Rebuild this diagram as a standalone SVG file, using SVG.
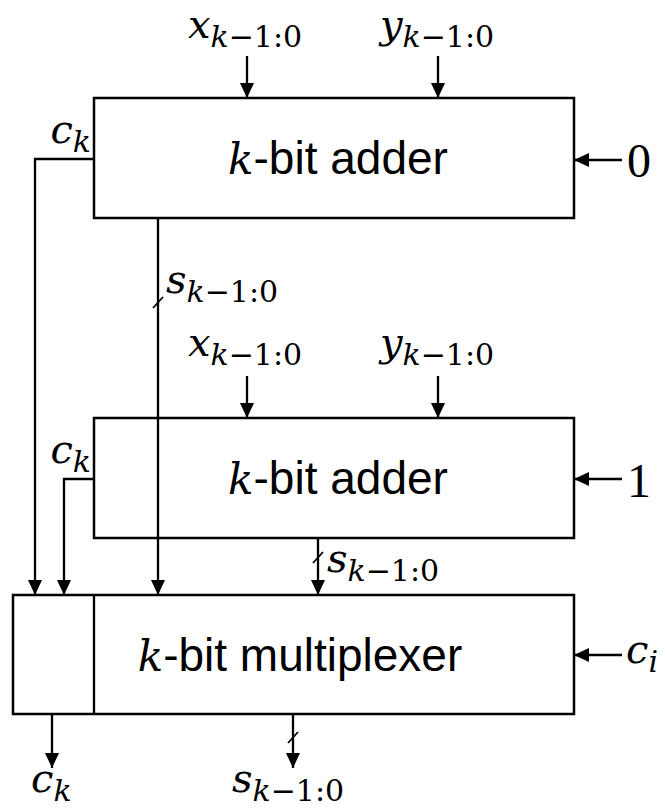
<svg xmlns="http://www.w3.org/2000/svg" width="665" height="812" viewBox="0 0 665 812">
  <defs>
    <marker id="arrow" markerUnits="userSpaceOnUse" markerWidth="16" markerHeight="14" refX="15" refY="7" orient="auto">
      <path d="M0,0 L15,7 L0,14 z" fill="#000"/>
    </marker>
    <style>
      .box { fill: #fff; stroke: #000; stroke-width: 2.5; }
      .wire { fill: none; stroke: #000; stroke-width: 2.3; }
      .arr { fill: none; stroke: #000; stroke-width: 2.3; marker-end: url(#arrow); }
      .tick { stroke: #000; stroke-width: 1.8; }
      .title { font-family: "Liberation Sans", Arial, sans-serif; font-size: 46px; fill: #000; }
      .kvar { font-family: "DejaVu Serif", serif; font-style: italic; font-size: 42px; }
      .math { font-family: "DejaVu Serif", serif; font-style: italic; font-size: 40px; fill: #000; }
      .sub { font-size: 30px; }
      .up { font-style: normal; }
      .num { font-family: "Liberation Serif", "Times New Roman", serif; font-size: 48px; fill: #000; }
    </style>
  </defs>

  <!-- upper adder (carry-in 0) -->
  <g id="adder0">
    <rect class="box" x="94" y="98" width="480" height="120"/>
    <text class="title" x="338" y="174" text-anchor="middle"><tspan class="kvar">k</tspan>-bit adder</text>
  </g>

  <!-- lower adder (carry-in 1) -->
  <g id="adder1">
    <rect class="box" x="94" y="418" width="480" height="120"/>
    <text class="title" x="338" y="494" text-anchor="middle"><tspan class="kvar">k</tspan>-bit adder</text>
  </g>

  <!-- output multiplexer -->
  <g id="mux">
    <rect class="box" x="13" y="595" width="561" height="119"/>
    <line class="wire" x1="94" y1="595" x2="94" y2="714" stroke-width="2.5"/>
    <text class="title" x="300" y="671" text-anchor="middle"><tspan class="kvar">k</tspan>-bit multiplexer</text>
  </g>

  <!-- connectors -->
  <g id="connectors">
    <!-- operand inputs -->
    <line class="arr" x1="247" y1="56" x2="247" y2="98"/>
    <line class="arr" x1="438" y1="56" x2="438" y2="98"/>
    <line class="arr" x1="247" y1="376" x2="247" y2="418"/>
    <line class="arr" x1="438" y1="376" x2="438" y2="418"/>
    <!-- carry inputs -->
    <line class="arr" x1="622" y1="160" x2="574" y2="160"/>
    <line class="arr" x1="622" y1="479" x2="574" y2="479"/>
    <line class="arr" x1="622" y1="655" x2="574" y2="655"/>
    <!-- carry outputs into mux -->
    <polyline class="arr" points="94,159 35,159 35,595"/>
    <polyline class="arr" points="94,479 64,479 64,595"/>
    <!-- sums into mux -->
    <line class="arr" x1="158" y1="218" x2="158" y2="595"/>
    <line class="tick" x1="153" y1="308" x2="163" y2="297"/>
    <line class="arr" x1="318" y1="538" x2="318" y2="595"/>
    <line class="tick" x1="313" y1="563" x2="323" y2="552"/>
    <!-- mux outputs -->
    <line class="arr" x1="52" y1="714" x2="52" y2="768"/>
    <line class="arr" x1="293" y1="714" x2="293" y2="768"/>
    <line class="tick" x1="288" y1="743" x2="298" y2="732"/>
  </g>

  <!-- signal labels -->
  <g id="labels">
    <text class="math" x="245" y="38" text-anchor="middle">x<tspan class="sub" dy="9">k</tspan><tspan class="sub up">−1:0</tspan></text>
    <text class="math" x="437" y="38" text-anchor="middle">y<tspan class="sub" dy="9">k</tspan><tspan class="sub up">−1:0</tspan></text>
    <text class="math" x="245" y="356" text-anchor="middle">x<tspan class="sub" dy="9">k</tspan><tspan class="sub up">−1:0</tspan></text>
    <text class="math" x="437" y="356" text-anchor="middle">y<tspan class="sub" dy="9">k</tspan><tspan class="sub up">−1:0</tspan></text>
    <text class="math" x="91" y="143" text-anchor="end">c<tspan class="sub" dy="9">k</tspan></text>
    <text class="math" x="91" y="463" text-anchor="end">c<tspan class="sub" dy="9">k</tspan></text>
    <text class="math" x="166" y="293">s<tspan class="sub" dy="9">k</tspan><tspan class="sub up">−1:0</tspan></text>
    <text class="math" x="327" y="572">s<tspan class="sub" dy="9">k</tspan><tspan class="sub up">−1:0</tspan></text>
    <text class="num" x="627" y="177">0</text>
    <text class="num" x="627" y="497">1</text>
    <text class="math" x="626" y="663">c<tspan class="sub" dy="9">i</tspan></text>
    <text class="math" x="31" y="792">c<tspan class="sub" dy="9">k</tspan></text>
    <text class="math" x="232" y="792">s<tspan class="sub" dy="9">k</tspan><tspan class="sub up">−1:0</tspan></text>
  </g>
</svg>
